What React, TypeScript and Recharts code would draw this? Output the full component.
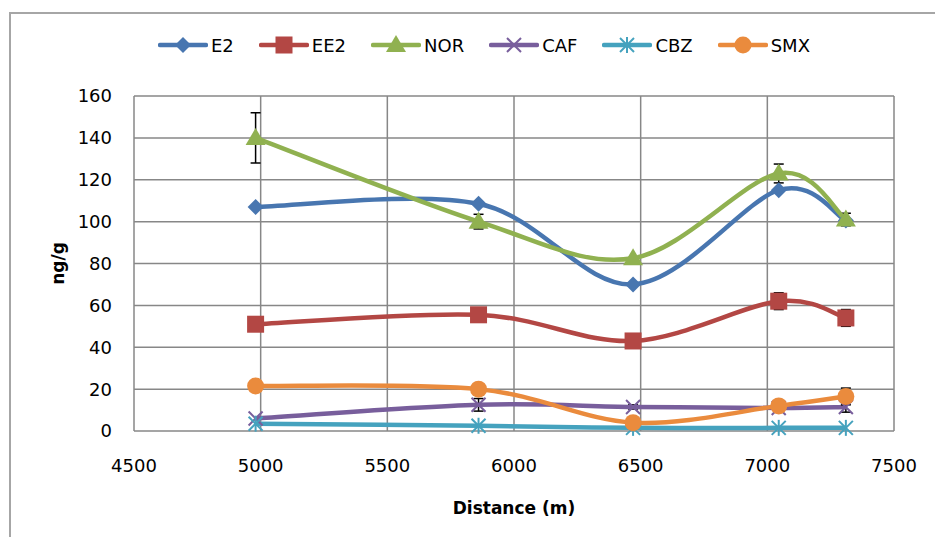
import { CartesianGrid, ErrorBar, Line, LineChart, XAxis, YAxis } from "recharts";

const FONT = "'DejaVu Sans', sans-serif";

// distance along the river (m)
const distance = [4980, 5860, 6470, 7045, 7310];

// concentrations (ng/g)
const e2 = [107, 108.5, 70, 115, 100.5];
const ee2 = [51, 55.5, 43, 62, 54];
const nor = [140, 100, 82.5, 123, 101];
const caf = [6, 12.5, 11.5, 11, 11.5];
const cbz = [3.5, 2.5, 1.5, 1.5, 1.5];
const smx = [21.5, 20, 4, 12, 16.5];

// standard deviations (0 = no bar)
const e2Err = [0, 0, 0, 0, 0];
const ee2Err = [0, 0, 0, 4, 4];
const norErr = [12, 3.5, 0, 4.5, 3];
const cafErr = [0, 3, 1, 0, 2.5];
const cbzErr = [0, 0, 0, 0, 0];
const smxErr = [0, 0, 0, 0, 4];

const xTicks = [4500, 5000, 5500, 6000, 6500, 7000, 7500];
const yTicks = [0, 20, 40, 60, 80, 100, 120, 140, 160];

type Kind = "diamond" | "square" | "triangle" | "x" | "star" | "circle";

const SERIES: { key: string; name: string; color: string; kind: Kind; values: number[]; err: number[] }[] = [
  { key: "e2", name: "E2", color: "#4876b0", kind: "diamond", values: e2, err: e2Err },
  { key: "ee2", name: "EE2", color: "#b34744", kind: "square", values: ee2, err: ee2Err },
  { key: "nor", name: "NOR", color: "#90b150", kind: "triangle", values: nor, err: norErr },
  { key: "caf", name: "CAF", color: "#785e9c", kind: "x", values: caf, err: cafErr },
  { key: "cbz", name: "CBZ", color: "#45a2be", kind: "star", values: cbz, err: cbzErr },
  { key: "smx", name: "SMX", color: "#ea8b3d", kind: "circle", values: smx, err: smxErr },
];

const data = distance.map((d, i) => {
  const row: Record<string, number> = { distance: d };
  SERIES.forEach(s => {
    row[s.key] = s.values[i];
    row[s.key + "Err"] = s.err[i];
  });
  return row;
});

// Excel-like smoothed line (Catmull-Rom through the points)
const excelSmooth = (context: any) => {
  let pts: [number, number][] = [];
  return {
    areaStart() {},
    areaEnd() {},
    lineStart() {
      pts = [];
    },
    lineEnd() {
      const n = pts.length;
      if (!n) return;
      context.moveTo(pts[0][0], pts[0][1]);
      for (let i = 0; i < n - 1; i++) {
        const p0 = pts[Math.max(i - 1, 0)];
        const p1 = pts[i];
        const p2 = pts[i + 1];
        const p3 = pts[Math.min(i + 2, n - 1)];
        context.bezierCurveTo(
          p1[0] + (p2[0] - p0[0]) / 6, p1[1] + (p2[1] - p0[1]) / 6,
          p2[0] - (p3[0] - p1[0]) / 6, p2[1] - (p3[1] - p1[1]) / 6,
          p2[0], p2[1]
        );
      }
    },
    point(x: number, y: number) {
      pts.push([+x, +y]);
    },
  };
};

function Marker({ kind, cx, cy, color }: { kind: Kind; cx: number; cy: number; color: string }) {
  switch (kind) {
    case "diamond":
      return <polygon points={`${cx},${cy - 8} ${cx + 8},${cy} ${cx},${cy + 8} ${cx - 8},${cy}`} fill={color} />;
    case "square":
      return <rect x={cx - 8.5} y={cy - 8.5} width={17} height={17} fill={color} />;
    case "triangle":
      return <polygon points={`${cx},${cy - 10} ${cx + 10},${cy + 7} ${cx - 10},${cy + 7}`} fill={color} />;
    case "x":
      return (
        <g stroke={color} strokeWidth={2}>
          <line x1={cx - 7} y1={cy - 7} x2={cx + 7} y2={cy + 7} />
          <line x1={cx - 7} y1={cy + 7} x2={cx + 7} y2={cy - 7} />
        </g>
      );
    case "star":
      return (
        <g stroke={color} strokeWidth={2}>
          <line x1={cx - 7} y1={cy - 7} x2={cx + 7} y2={cy + 7} />
          <line x1={cx - 7} y1={cy + 7} x2={cx + 7} y2={cy - 7} />
          <line x1={cx} y1={cy - 8} x2={cx} y2={cy + 8} />
        </g>
      );
    default:
      return <circle cx={cx} cy={cy} r={8.5} fill={color} />;
  }
}

function LegendRow() {
  return (
    <div
      style={{
        position: "absolute", left: 158, top: 34, display: "flex", gap: 25,
        alignItems: "center", fontFamily: FONT, fontSize: 18, color: "#000",
      }}
    >
      {SERIES.map(s => (
        <div key={s.key} style={{ display: "flex", alignItems: "center", gap: 3 }}>
          <svg width={50} height={22}>
            <line x1={2} y1={11} x2={48} y2={11} stroke={s.color} strokeWidth={4.5} strokeLinecap="round" />
            <Marker kind={s.kind} cx={25} cy={11} color={s.color} />
          </svg>
          <span>{s.name}</span>
        </div>
      ))}
    </div>
  );
}

export default function App() {
  const tick = { fill: "#000", fontSize: 18, fontFamily: FONT };
  return (
    <div style={{ position: "absolute", left: 0, top: 0, width: 935, height: 537, overflow: "hidden", background: "#fff" }}>
      <div
        style={{
          position: "absolute", left: 9, top: 12, width: 1000, height: 600,
          borderTop: "2px solid #a6a6a6", borderLeft: "2px solid #a6a6a6",
        }}
      />
      <LineChart width={935} height={537} data={data} margin={{ top: 96, right: 41, bottom: 0, left: 0 }}>
        <CartesianGrid stroke="#878787" strokeWidth={1.5} horizontalValues={yTicks} verticalValues={xTicks} />
        <XAxis
          dataKey="distance"
          type="number"
          domain={[4500, 7500]}
          ticks={xTicks}
          allowDataOverflow
          height={106}
          axisLine={false}
          tickLine={false}
          tickSize={0}
          tickMargin={28}
          tick={tick}
          label={{
            value: "Distance (m)", position: "insideBottom", offset: 23,
            style: { fontFamily: FONT, fontSize: 17, fontWeight: 700, fill: "#000" },
          }}
        />
        <YAxis
          type="number"
          domain={[0, 160]}
          ticks={yTicks}
          width={134}
          axisLine={false}
          tickLine={false}
          tickSize={0}
          tickMargin={22}
          tick={tick}
          label={{
            value: "ng/g", angle: -90, position: "insideLeft", offset: 58,
            style: { fontFamily: FONT, fontSize: 17, fontWeight: 700, fill: "#000", textAnchor: "middle" },
          }}
        />
        {SERIES.map(s => (
          <Line
            key={s.key}
            dataKey={s.key}
            name={s.name}
            type={excelSmooth as any}
            stroke={s.color}
            strokeWidth={4.5}
            isAnimationActive={false}
            activeDot={false}
            dot={(p: any) => <Marker key={`${s.key}-${p.index}`} kind={s.kind} cx={p.cx} cy={p.cy} color={s.color} />}
          >
            <ErrorBar dataKey={s.key + "Err"} width={5} stroke="#000" strokeWidth={1.5} direction="y" />
          </Line>
        ))}
      </LineChart>
      <LegendRow />
    </div>
  );
}
